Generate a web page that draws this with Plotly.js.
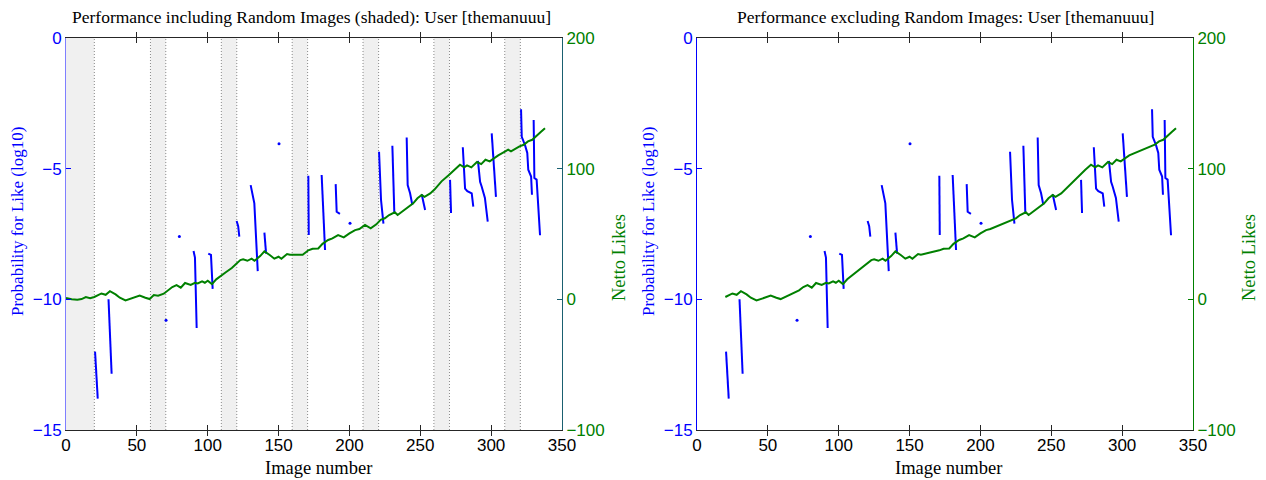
<!DOCTYPE html>
<html><head><meta charset="utf-8">
<script src="https://cdn.plot.ly/plotly-3.0.1.min.js"></script>
<style>html,body{margin:0;padding:0;background:#fff}#chart{width:1266px;height:480px}</style>
</head><body><div id="chart"></div>
<script>
// Netto likes (cumulative), per image number
const imageX = [0,4,8,11,14,17,20,23,25,28,31,35,38,42,45,49,52,56,59,62,65,69,72,75,78,81,84,88,91,93,96,98,100,103,106,110,113,117,120,123,125,128,131,133,137,140,144,147,150,152,156,158,163,167,171,174,178,181,185,188,192,196,200,204,207,211,215,219,222,225,228,232,234,238,241,245,248,251,253,257,260,265,270,274,278,281,283,286,290,293,296,299,302,305,310,312,314,318,320,323,326,329,332,335,338];
const nettoLikes = [1,0,-0.3,0.2,1.8,0.8,1.8,3.3,4.5,3.5,6.2,3.8,1.2,-0.9,0.2,1.2,2.8,1.2,0.2,3.3,2.8,4.3,6.9,9.4,10.9,8.9,12.5,11,12.7,12.2,13.8,12.7,14.2,11.7,15.3,18.8,20.9,24,27,30,30.6,29.5,31.1,29.5,33.1,36.8,33.7,31.1,32.6,31.1,34.7,34.1,34.1,34.1,37.5,38.7,38.9,42.5,45.4,46.7,49.2,47.4,50.5,53,53.8,56.9,54.3,57.4,60.9,62,64.5,66.6,64.5,67.6,70.6,73.5,77.3,79.8,78.5,81,84,90.3,94.9,99.2,103,101,102.5,101,105.1,103.5,106.8,105.6,108.1,110.2,113.3,114.5,113.3,115.8,117.1,118.3,120.9,122.1,124.7,128,131];
// Probability for like (log10): segments separated by null
const probX = [20.5,21.5,22.4,null, 30,31,32.2,null, 90,91,92.2,null, 100.4,102.3,103.5,null, 120.4,121.5,122.3,null, 130.3,132.9,135.3,null, 140,141.2,null, 171,171.3,null, 180.4,182.8,null, 190.3,191,193.3,null, 220.9,222.3,224,null, 230.3,231.7,null, 240.4,241.1,242.8,244.4,null, 251,253.4,null, 271,271.5,271.7,null, 280,281.6,283.2,286.3,287.4,null, 290.7,292.2,293.3,295.6,297.6,null, 300.4,303.4,null, 321.1,321.6,323.9,325.5,326.2,328.2,328.8,null, 330,330.5,332.1,333.3,334.5];
const probY = [-12.0,-12.9,-13.8,null, -10.0,-11.4,-12.85,null, -8.15,-8.4,-11.1,null, -8.25,-8.3,-9.6,null, -7.0,-7.2,-7.6,null, -5.63,-6.33,-8.92,null, -7.45,-8.25,null, -5.27,-7.54,null, -5.24,-8.11,null, -5.59,-6.65,-6.73,null, -4.35,-6.2,-7.1,null, -4.12,-6.71,null, -3.81,-5.63,-5.94,-6.39,null, -5.98,-6.58,null, -5.43,-6.3,-6.7,null, -4.18,-5.76,-5.86,-5.95,-6.45,null, -4.7,-5.5,-5.68,-6.12,-7.03,null, -3.65,-6.08,null, -2.73,-3.78,-4.1,-4.4,-5.04,-5.3,-6.0,null, -3.14,-5.36,-5.42,-6.3,-7.55];
const dotX = [70.6, 80, 150.3, 200.4];
const dotY = [-10.8, -7.6, -4.05, -7.09];
// Random image blocks (shaded)
const randomStart = [0, 59.6, 109.6, 159.6, 209.6, 259.6, 309.6];
const randomEnd = [20, 70.4, 120.5, 170.5, 220.6, 270.6, 320.6];
const xTicks = [0,50,100,150,200,250,300,350];
const probTicks = [-15,-10,-5,0];
const likeTicks = [-100,0,100,200];
const titles = ['Performance including Random Images (shaded): User [themanuuu]','Performance excluding Random Images: User [themanuuu]'];

const BLUE = '#0000ff', GREEN = '#008000';
const SERIF = 'Liberation Serif, serif', SANS = 'Liberation Sans, Arial, sans-serif';

function isRandom(x){
  for (let i=0;i<randomStart.length;i++){
    if (i===0 ? x < randomEnd[0] : (x > randomStart[i] && x < randomEnd[i])) return true;
  }
  return false;
}
const keptX = [], keptY = [];
imageX.forEach((x,i)=>{ if(!isRandom(x)){ keptX.push(x); keptY.push(nettoLikes[i]); } });

const traces = [];
[['x','y','y2', imageX, nettoLikes], ['x2','y3','y4', keptX, keptY]].forEach(([xa,ya,yb,gx,gy])=>{
  traces.push({x:probX, y:probY, xaxis:xa, yaxis:ya, mode:'lines', line:{color:BLUE,width:2}, hoverinfo:'skip', showlegend:false});
  traces.push({x:dotX, y:dotY, xaxis:xa, yaxis:ya, mode:'markers', marker:{color:BLUE,size:3}, hoverinfo:'skip', showlegend:false});
  traces.push({x:gx, y:gy, xaxis:xa, yaxis:yb, mode:'lines', line:{color:GREEN,width:2}, hoverinfo:'skip', showlegend:false});
});

const shapes = [];
randomStart.forEach((s,i)=>{
  const e = randomEnd[i];
  shapes.push({type:'rect', xref:'x', yref:'y', x0:s, x1:e, y0:-15, y1:0, fillcolor:'#f0f0f0', line:{width:0}, layer:'below'});
  [s,e].forEach(v=>{ if(v>0) shapes.push({type:'line', xref:'x', yref:'y', x0:v, x1:v, y0:-15, y1:0, line:{color:'#8a8a8a', width:1, dash:'1px,2px'}, layer:'below'}); });
});

const yDom = [1-430/480, 1-38/480];
const xaxisBase = (dom, anchor)=>({domain:dom, anchor:anchor, range:[0,350], tickvals:xTicks, ticks:'inside', ticklen:5, tickcolor:'#262626',
  showline:true, linecolor:'#262626', linewidth:1, mirror:'allticks', showgrid:false, zeroline:false,
  tickfont:{family:SANS,size:17,color:'#000'}});
const yLeft = (anchor, lc)=>({domain:yDom, anchor:anchor, range:[-15,0], tickvals:probTicks, ticks:'inside', ticklen:5, tickcolor:BLUE,
  showline:true, linecolor:lc, linewidth:1, showgrid:false, zeroline:false, tickfont:{family:SANS,size:17,color:BLUE}});
const yRight = (anchor, over, lc)=>({domain:yDom, anchor:anchor, overlaying:over, side:'right', range:[-100,200], tickvals:likeTicks, ticks:'inside', ticklen:5, tickcolor:lc,
  showline:true, linecolor:lc, linewidth:1, showgrid:false, zeroline:false, tickfont:{family:SANS,size:17,color:GREEN}});

const ann = (text,x,y,color,angle,size)=>({text:text, xref:'paper', yref:'paper', x:x, y:y, xanchor:'center', yanchor:'middle', showarrow:false, textangle:angle||0, font:{family:SERIF,size:size||18.5,color:color}});

const layout = {
  width:1266, height:480, margin:{l:0,r:0,t:0,b:0}, paper_bgcolor:'#fff', plot_bgcolor:'rgba(0,0,0,0)', showlegend:false,
  xaxis: xaxisBase([66/1266, 562/1266], 'y'),
  yaxis: yLeft('x', '#7f7fff'),
  yaxis2: yRight('x', 'y', '#1a6070'),
  xaxis2: xaxisBase([697/1266, 1193/1266], 'y3'),
  yaxis3: yLeft('x2', BLUE),
  yaxis4: yRight('x2', 'y3', GREEN),
  shapes: shapes,
  annotations: [
    ann(titles[0], 311/1266, 1-17/480, '#000', 0, 17.5),
    ann(titles[1], 945/1266, 1-17/480, '#000', 0, 17.5),
    ann('Image number', 318/1266, 1-468/480, '#000'),
    ann('Image number', 948/1266, 1-468/480, '#000'),
    ann('Probability for Like (log10)', 17/1266, 1-222/480, BLUE, -90, 17),
    ann('Netto Likes', 619/1266, 1-258/480, GREEN, -90),
    ann('Probability for Like (log10)', 648/1266, 1-222/480, BLUE, -90, 17),
    ann('Netto Likes', 1249/1266, 1-258/480, GREEN, -90)
  ]
};
Plotly.newPlot('chart', traces, layout, {staticPlot:true, displayModeBar:false});
</script></body></html>
